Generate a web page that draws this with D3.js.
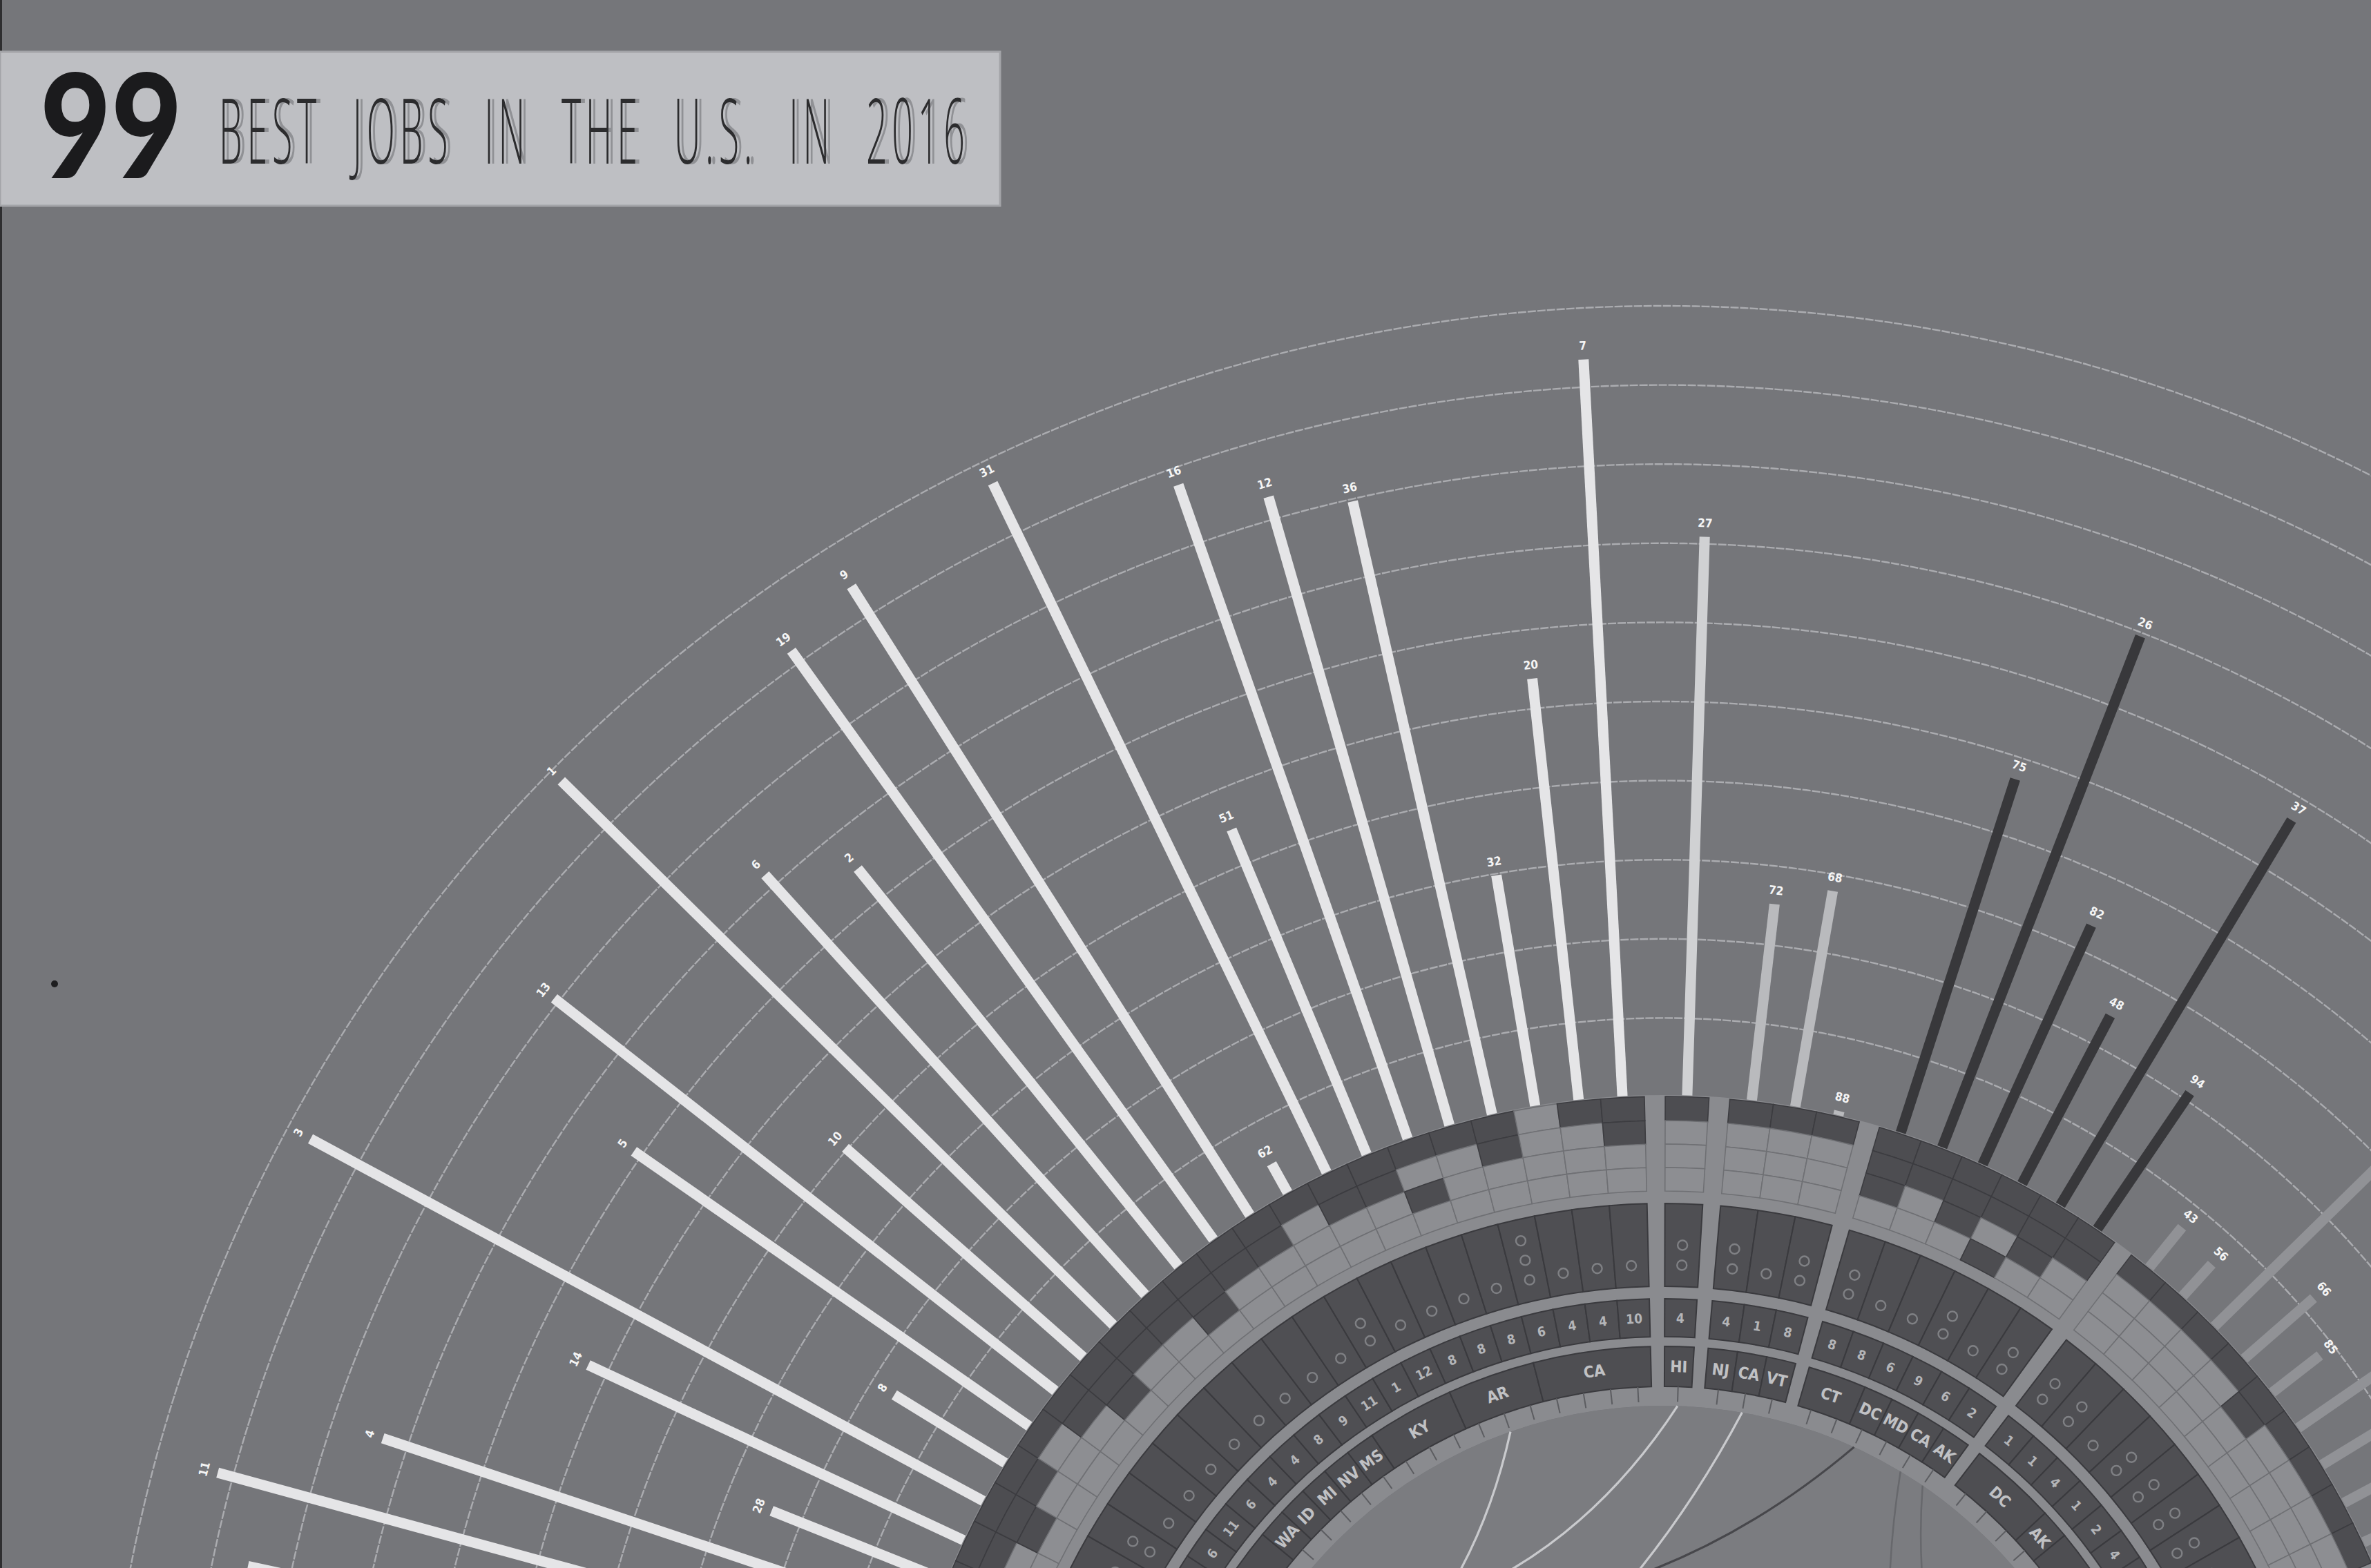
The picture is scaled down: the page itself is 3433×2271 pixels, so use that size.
<!DOCTYPE html>
<html><head><meta charset="utf-8">
<script src="https://cdn.jsdelivr.net/npm/d3@7"></script>
<style>html,body{margin:0;padding:0;background:#75767a;overflow:hidden}svg{display:block}</style>
</head><body>
<svg id="chart" width="3433" height="2271"></svg>
<script>
// ================= DATA =================
const titleNumber = "99";
const titleText = "BEST JOBS IN THE U.S. IN 2016";

// groups of jobs around the ring (clockwise, visible part only)
const groupSizes = [24, 1, 3, 6, 9];

// rank label of each job (clockwise order)
const jobRanks = ["22","11","4","28","14","3","8","5","13","10","1","6","2","19","9","62","31","51","16","12","36","32","20","7",
  "27",
  "72","68","88",
  "75","26","82","48","37","94",
  "43","56","39","66","85","45","59","70","90"];

// bar value (0-100 on the radial scale)
const jobScores = [85.5,92.0,73.3,24.0,52.6,96.8,16.7,61.1,80.7,40.3,98.2,71.8,64.8,91.8,94.3,4.4,97.0,44.7,87.8,82.9,79.7,29.8,53.8,93.5,
  70.9,
  25.2,27.9,0.8,
  47.2,69.5,33.4,24.2,57.0,21.0,
  6.8,5.7,45,11.9,7.9,38,30,22,16];

// 4-row tile band (outer -> inner), 1 = dark tile
const tilePatterns = ["1100","1110","1100","1010","1100","1110","1100","1000","1100","1110","1100","1100","1110","1100","1100","1000","1100","1100","1010","1000","1100","0000","1000","1100",
  "1000",
  "1000","1000","1000",
  "1110","1100","1110","1101","1110","1100",
  "1000","1000","1000","1000","1100","1000","1000","1000","1000"];

// number of small circle glyphs per job
const glyphCounts = [1,2,1,1,1,2,2,1,1,1,1,1,1,1,1,2,1,1,1,1,3,1,1,1,
  2,
  2,1,2,
  2,1,1,2,1,2,
  2,2,1,2,2,2,2,2,2];

// number band values
const bandNumbers = [7,3,9,12,5,8,4,6,11,6,4,4,8,9,11,1,12,8,8,8,6,4,4,10,
  4,
  4,1,8,
  8,8,6,9,6,2,
  1,1,4,1,2,4,3,2,1];

// state band (consecutive equal states are merged)
const jobStates = ["NY","NY","NY","IL","IL","MA","MA","TX","TX","WA","ID","MI","NV","MS","KY","KY","KY","AR","AR","AR","CA","CA","CA","CA",
  "HI",
  "NJ","CA","VT",
  "CT","CT","DC","MD","CA","AK",
  "DC","DC","DC","AK","VA","VA","TX","TX","NY"];

// links drawn inside the ring: from job rank -> target angle (deg)
const linkFrom = ["16","27","68","82","37","94"];
const linkTo   = [-80, -60, -90, -55, 120, 100];
const linkTone = ["light","light","light","dark","mid","mid"];

// ================= LAYOUT / STYLE =================
const W = 3433, H = 2271, cx = 2408, cy = 2704;
const firstAngle = -78.0, step = 3.26, gapDeg = 1.55;
const deg = Math.PI / 180;
const groupBarColor = ["#e5e5e7", "#d0d1d3", "#b9babd", "#38383b", "#919296"];
const toneColor = {light: "#c9cacd", dark: "#47474b", mid: "#67686c"};

const R = {
  ringIn: 668, ringOut: 1118,
  tiles: [[1116,1081],[1081,1047],[1047,1013],[1013,979]],
  glyph: [841, 961], num: [768, 823], state: [696, 754],
  tick: [674, 696], disk: 668
};

const rScale = d3.scaleLinear().domain([0, 100]).range([1115, 2261]);
const slotAngle = d3.scaleLinear().domain([0, 1]).range([firstAngle, firstAngle + step]);
const gapSlots = gapDeg / step;

const jobs = [];
let k = 0;
groupSizes.forEach((n, g) => {
  for (let i = 0; i < n; i++, k++) {
    jobs.push({i: k, g, rank: jobRanks[k], score: jobScores[k], tiles: tilePatterns[k],
      glyphs: glyphCounts[k], num: bandNumbers[k], state: jobStates[k],
      angle: slotAngle(k + g * gapSlots)});
  }
});
const half = step / 2;
const pol = (a, r) => [r * Math.sin(a * deg), -r * Math.cos(a * deg)];

const svg = d3.select("#chart");
svg.append("rect").attr("width", W).attr("height", H).attr("fill", "#75767a");
svg.append("rect").attr("x", 0).attr("y", 0).attr("width", 3).attr("height", H).attr("fill", "#2e2e30");

const root = svg.append("g").attr("transform", `translate(${cx},${cy})`);

// gridlines
root.append("g").selectAll("circle").data(rScale.ticks(10).filter(t => t > 0)).join("circle")
  .attr("r", d => rScale(d)).attr("fill", "none")
  .attr("stroke", "#abacb0").attr("stroke-width", 2.4).attr("stroke-dasharray", "12 2");

const arc = d3.arc();
const arcPath = (a0, a1, r0, r1) => arc({startAngle: a0 * deg, endAngle: a1 * deg, innerRadius: r0, outerRadius: r1});

// ring backdrop annulus
root.append("path").attr("d", arcPath(0, 360, R.ringIn, R.ringOut)).attr("fill", "#8a8b8f");
// inner disk
root.append("circle").attr("r", R.disk).attr("fill", "#7b7c80");

// tiles
const tileCells = [];
jobs.forEach(j => R.tiles.forEach((rr, row) => tileCells.push({j, row, dark: j.tiles[row] === "1", rr})));
root.append("g").selectAll("path").data(tileCells).join("path")
  .attr("d", d => arcPath(d.j.angle - half, d.j.angle + half, d.rr[1], d.rr[0]))
  .attr("fill", d => d.dark ? "#4d4d51" : "#8d8e92")
  .attr("stroke", d => d.dark ? "#3c3c40" : "#6f7074").attr("stroke-width", 1.6);

// glyph band
root.append("g").selectAll("path").data(jobs).join("path")
  .attr("d", d => arcPath(d.angle - half, d.angle + half, R.glyph[0], R.glyph[1]))
  .attr("fill", "#4f4f53").attr("stroke", "#3a3a3e").attr("stroke-width", 2);
const glyphs = [];
jobs.forEach(j => { for (let c = 0; c < j.glyphs; c++) glyphs.push({j, c}); });
root.append("g").selectAll("circle").data(glyphs).join("circle")
  .attr("cx", d => pol(d.j.angle, 872 + 29 * d.c)[0])
  .attr("cy", d => pol(d.j.angle, 872 + 29 * d.c)[1])
  .attr("r", 7).attr("fill", "none").attr("stroke", "#7f8084").attr("stroke-width", 2.4);

// number band
root.append("g").selectAll("path").data(jobs).join("path")
  .attr("d", d => arcPath(d.angle - half, d.angle + half, R.num[0], R.num[1]))
  .attr("fill", "#4f4f53").attr("stroke", "#3a3a3e").attr("stroke-width", 2);
root.append("g").attr("class", "clipcheck").selectAll("text").data(jobs).join("text")
  .attr("transform", d => { const p = pol(d.angle, 795); return `translate(${p[0]},${p[1]}) rotate(${d.angle})`; })
  .attr("text-anchor", "middle").attr("dy", "0.35em")
  .attr("font-family", "DejaVu Sans Condensed, DejaVu Sans, sans-serif").attr("font-weight", "bold")
  .attr("font-size", 19).attr("fill", "#b4b5b8").text(d => d.num);

// state band (merged)
const stateCells = [];
jobs.forEach(j => {
  const last = stateCells[stateCells.length - 1];
  if (last && last.state === j.state && last.g === j.g) { last.a1 = j.angle + half; }
  else stateCells.push({state: j.state, g: j.g, a0: j.angle - half, a1: j.angle + half});
});
root.append("g").selectAll("path").data(stateCells).join("path")
  .attr("d", d => arcPath(d.a0, d.a1, R.state[0], R.state[1]))
  .attr("fill", "#4e4e52").attr("stroke", "#3a3a3e").attr("stroke-width", 2);
root.append("g").attr("class", "clipcheck").selectAll("text").data(stateCells).join("text")
  .attr("transform", d => { const a = (d.a0 + d.a1) / 2; const p = pol(a, 725); return `translate(${p[0]},${p[1]}) rotate(${a})`; })
  .attr("text-anchor", "middle").attr("dy", "0.35em")
  .attr("font-family", "DejaVu Sans Condensed, DejaVu Sans, sans-serif").attr("font-weight", "bold")
  .attr("font-size", 23).attr("fill", "#c0c1c4").text(d => d.state);

// ticks
root.append("g").selectAll("line").data(jobs).join("line")
  .attr("x1", d => pol(d.angle, R.tick[0])[0]).attr("y1", d => pol(d.angle, R.tick[0])[1])
  .attr("x2", d => pol(d.angle, R.tick[1])[0]).attr("y2", d => pol(d.angle, R.tick[1])[1])
  .attr("stroke", "#5c5d61").attr("stroke-width", 2);

// bars
root.append("g").selectAll("line").data(jobs).join("line")
  .attr("x1", d => pol(d.angle, R.ringOut)[0]).attr("y1", d => pol(d.angle, R.ringOut)[1])
  .attr("x2", d => pol(d.angle, rScale(d.score))[0]).attr("y2", d => pol(d.angle, rScale(d.score))[1])
  .attr("stroke", d => groupBarColor[d.g]).attr("stroke-width", 15);

// bar labels
root.append("g").attr("class", "clipcheck").selectAll("text").data(jobs).join("text")
  .attr("transform", d => { const p = pol(d.angle, Math.max(rScale(d.score), R.ringOut) + 20); return `translate(${p[0]},${p[1]}) rotate(${d.angle})`; })
  .attr("text-anchor", "middle").attr("dy", "0.35em")
  .attr("font-family", "DejaVu Sans Condensed, DejaVu Sans, sans-serif").attr("font-weight", "bold")
  .attr("font-size", 17).attr("fill", "#f4f4f4").text(d => d.rank);

// links inside the disk
const byRank = new Map(jobs.map(j => [j.rank, j]));
const links = linkFrom.map((r, i) => ({a0: byRank.get(r).angle, a1: linkTo[i], tone: linkTone[i]}));
root.append("g").selectAll("path").data(links).join("path")
  .attr("d", d => {
    let delta = Math.abs(d.a1 - d.a0); if (delta > 180) delta = 360 - delta;
    let mid = (d.a0 + d.a1) / 2; if (Math.abs(d.a1 - d.a0) > 180) mid += 180;
    const cr = R.disk * Math.max(0, 1 - delta / 150);
    const p0 = pol(d.a0, R.disk), p2 = pol(d.a1, R.disk), c = pol(mid, cr);
    const p = d3.path(); p.moveTo(p0[0], p0[1]); p.quadraticCurveTo(c[0], c[1], p2[0], p2[1]); return p.toString();
  })
  .attr("fill", "none").attr("stroke", d => toneColor[d.tone]).attr("stroke-width", d => d.tone === "mid" ? 2.5 : 3.2);

// drop ring/bar texts that would be cut by the picture edge
svg.selectAll(".clipcheck text").each(function () {
  const b = this.getBoundingClientRect();
  if (b.bottom > H - 1 || b.right > W - 1 || b.left < 1 || b.top < 1) this.remove();
});

// small dot
svg.append("circle").attr("cx", 79).attr("cy", 1425).attr("r", 5).attr("fill", "#1e1e20");

// title box
svg.append("rect").attr("x", 0).attr("y", 75).attr("width", 1448).attr("height", 223)
  .attr("fill", "#bebfc3").attr("stroke", "#a3a4a8").attr("stroke-width", 3);
svg.append("text").attr("x", 58).attr("y", 258).attr("font-family", "Lato, sans-serif").attr("font-weight", 900)
  .attr("font-size", 210).attr("textLength", 206).attr("lengthAdjust", "spacingAndGlyphs")
  .attr("fill", "#1b1b1d").text(titleNumber);

function condensedTitle(x, color) {
  const t = svg.append("text").attr("font-family", "Open Sans, DejaVu Sans, sans-serif").attr("font-weight", 300)
    .attr("font-size", 128).attr("letter-spacing", 16).attr("word-spacing", 60)
    .attr("fill", color).text(titleText);
  const len = t.node().getComputedTextLength() - 16;
  const sx = 1080 / len;
  t.attr("transform", `translate(${x},237) scale(${sx},1.03)`);
  return t;
}
condensedTitle(323, "#909195");
condensedTitle(317, "#2c2c2e");
</script>
</body></html>
